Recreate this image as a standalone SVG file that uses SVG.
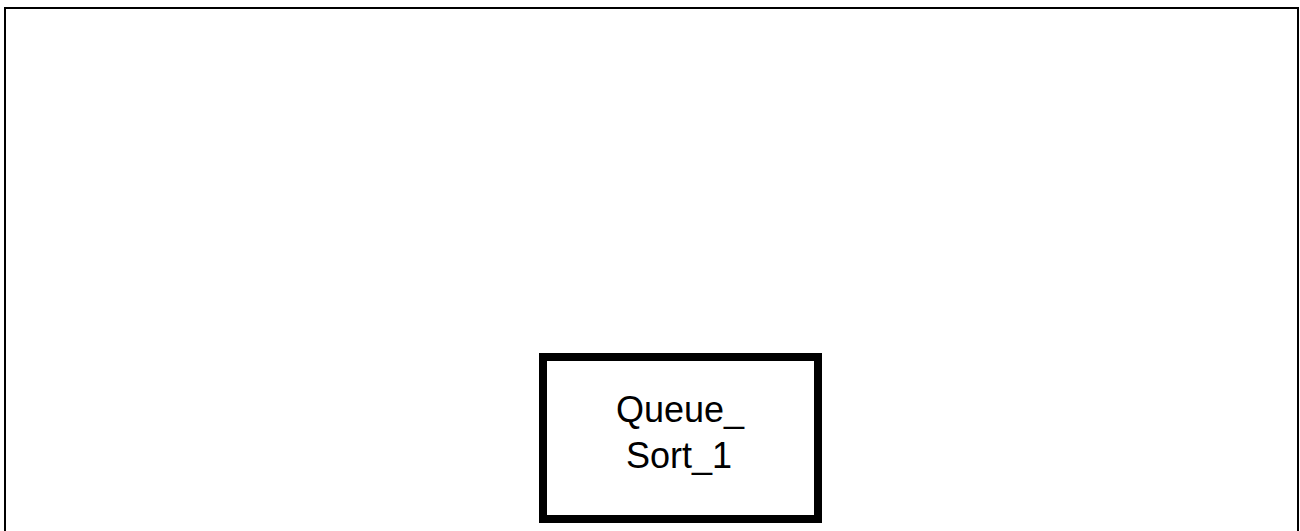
<svg xmlns="http://www.w3.org/2000/svg" width="1300" height="531" viewBox="0 0 1300 531">
<style>
.frame{fill:none;stroke:#000;stroke-width:2}
.node{fill:#fff;stroke:#000;stroke-width:8}
.label{font-family:"Liberation Sans",Arial,sans-serif;font-size:36px;fill:#000;text-anchor:middle}
</style>
<rect width="1300" height="531" fill="#fff"/>
<rect class="frame" x="5" y="8" width="1293" height="600"/>
<g id="connectors"></g>
<g id="Queue_Sort_1">
<rect class="node" x="543" y="357" width="275" height="162"/>
<text class="label" x="680" y="422">Queue_</text>
<text class="label" x="679" y="468">Sort_1</text>
</g>
</svg>
